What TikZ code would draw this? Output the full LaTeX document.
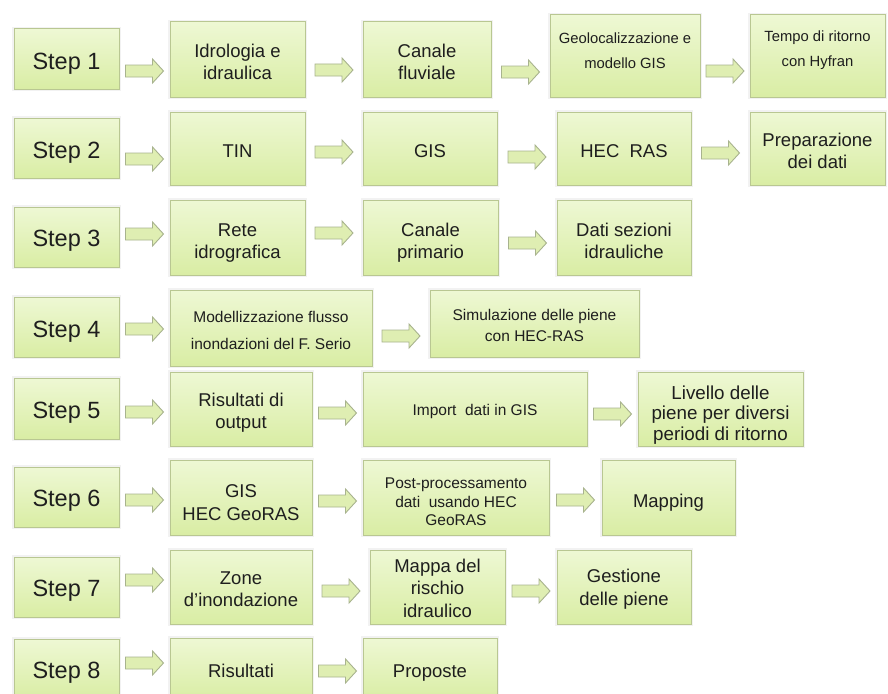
\documentclass[tikz,border=0pt]{standalone}
\usepackage{fontspec}
\setmainfont{Liberation Sans}
\usetikzlibrary{calc}
\definecolor{boxtop}{HTML}{EEF8D4}
\definecolor{boxbot}{HTML}{D9EDA4}
\definecolor{boxline}{HTML}{B9C792}
\definecolor{arrfill}{HTML}{DFEEB2}
\definecolor{arrline}{HTML}{A8B38E}
\definecolor{txt}{HTML}{1E1E1E}
\newcommand\fsStep{\fontsize{23.5}{27}\selectfont}
\newcommand\fsBig{\fontsize{18.5}{22.5}\selectfont}
\newcommand\fsSmall{\fontsize{14.8}{25}\selectfont}
\newcommand\fsMid{\fontsize{15.5}{27}\selectfont}
\newcommand\fsSim{\fontsize{15.5}{20.5}\selectfont}
\newcommand\fsPost{\fontsize{15.5}{18.5}\selectfont}
\newcommand\fsLiv{\fontsize{18.8}{20.5}\selectfont}
\tikzset{
  box/.style={rectangle, draw=boxline, line width=1pt, top color=boxtop,
    bottom color=boxbot, inner sep=0pt,
    preaction={draw=black!5, line width=4pt}},
  label text/.style={text=txt, align=center, inner sep=0pt},
  blockarrow/.style={draw=arrline, fill=arrfill, line width=0.9pt, line join=miter}
}
% [text dy], name, x1, y1, x2, y2, font, text
\newcommand\bx[8][3]{%
  \pgfmathsetmacro\bxw{#5-#3}\pgfmathsetmacro\bxh{#6-#4}%
  \node[box, minimum width=\bxw pt, minimum height=\bxh pt] (#2) at ({(#3+#5)/2},{(#4+#6)/2}) {};
  \node[label text, font=#7] (#2t) at ([shift={(0,#1)}]#2.center) {#8};}
% from, to, y
\newcommand\barrow[3]{%
  \coordinate (m#1#2) at ($(#1.east)!0.5!(#2.west)$);
  \coordinate (c#1#2) at (m#1#2 |- 0,#3);
  \draw[blockarrow] ([shift={(-19,-6)}]c#1#2) -- ([shift={(8,-6)}]c#1#2) -- ([shift={(8,-12)}]c#1#2)
     -- ([shift={(19,0)}]c#1#2) -- ([shift={(8,12)}]c#1#2) -- ([shift={(8,6)}]c#1#2)
     -- ([shift={(-19,6)}]c#1#2) -- cycle;}
\begin{document}
\begin{tikzpicture}[x=1pt,y=-1pt]
\useasboundingbox (0,0) rectangle (888,693);
\fill[white] (0,0) rectangle (888,693);
\clip (0,0) rectangle (888,693);
% Row 1
\bx[5]{s1}{14}{29}{119}{89}{\fsStep}{Step 1}
\bx[2.5]{a1}{170}{22}{305}{97}{\fsBig}{Idrologia e\\idraulica}
\bx[2.5]{b1}{363}{22}{491}{97}{\fsBig}{Canale\\fluviale}
\bx[-5]{c1}{550}{15}{700}{97}{\fsSmall}{Geolocalizzazione e\\modello GIS}
\bx[-6]{d1}{750}{15}{885}{97}{\fsSmall}{Tempo di ritorno\\con Hyfran}
\barrow{s1}{a1}{71}
\barrow{a1}{b1}{70}
\barrow{b1}{c1}{72}
\barrow{c1}{d1}{71}
% Row 2
\bx[5]{s2}{14}{118}{119}{178}{\fsStep}{Step 2}
\bx{a2}{170}{112}{305}{185}{\fsBig}{TIN}
\bx{b2}{363}{112}{497}{185}{\fsBig}{GIS}
\bx{c2}{557}{112}{691}{185}{\fsBig}{HEC\ \ RAS}
\bx[2.5]{d2}{750}{112}{885}{185}{\fsBig}{Preparazione\\dei dati}
\barrow{s2}{a2}{159}
\barrow{a2}{b2}{152}
\barrow{b2}{c2}{157}
\barrow{c2}{d2}{153}
% Row 3
\bx[3.5]{s3}{14}{207}{119}{267}{\fsStep}{Step 3}
\bx[5.5]{a3}{170}{200}{305}{275}{\fsBig}{Rete\\idrografica}
\bx[5]{b3}{363}{200}{498}{275}{\fsBig}{Canale\\primario}
\bx[3.5]{c3}{557}{200}{691}{275}{\fsBig}{Dati sezioni\\idrauliche}
\barrow{s3}{a3}{234}
\barrow{a3}{b3}{233}
\barrow{b3}{c3}{243}
% Row 4
\bx[5]{s4}{14}{297}{119}{357}{\fsStep}{Step 4}
\bx[2]{a4}{170}{290}{372}{366}{\fsMid}{Modellizzazione flusso\\inondazioni del F. Serio}
\bx[2]{b4}{430}{290}{639}{357}{\fsSim}{Simulazione delle piene\\con HEC-RAS}
\barrow{s4}{a4}{329}
\barrow{a4}{b4}{336}
% Row 5
\bx[4]{s5}{14}{378}{119}{439}{\fsStep}{Step 5}
\bx[3.5]{a5}{170}{372}{312}{446}{\fsBig}{Risultati di\\output}
\bx[2]{b5}{363}{372}{587}{446}{\fsMid}{Import\ \ dati in GIS}
\bx[6]{c5}{638}{372}{803}{446}{\fsLiv}{Livello delle\\piene per diversi\\periodi di ritorno}
\barrow{s5}{a5}{412}
\barrow{a5}{b5}{413}
\barrow{b5}{c5}{414}
% Row 6
\bx[4]{s6}{14}{467}{119}{527}{\fsStep}{Step 6}
\bx[5]{a6}{170}{460}{312}{535}{\fsBig}{GIS\\HEC GeoRAS}
\bx[4.5]{b6}{363}{460}{549}{535}{\fsPost}{Post-processamento\\dati\ \ usando HEC\\GeoRAS}
\bx[5]{c6}{602}{460}{735}{535}{\fsBig}{Mapping}
\barrow{s6}{a6}{500}
\barrow{a6}{b6}{501}
\barrow{b6}{c6}{500}
% Row 7
\bx[4]{s7}{14}{557}{119}{617}{\fsStep}{Step 7}
\bx[2]{a7}{170}{550}{312}{624}{\fsBig}{Zone\\d’inondazione}
\bx[1]{b7}{370}{550}{505}{624}{\fsBig}{Mappa del\\rischio\\idraulico}
\bx[2]{c7}{557}{550}{691}{624}{\fsBig}{Gestione\\delle piene}
\barrow{s7}{a7}{580}
\barrow{a7}{b7}{591}
\barrow{b7}{c7}{591}
% Row 8
\bx[4]{s8}{14}{639}{119}{699}{\fsStep}{Step 8}
\bx[2]{a8}{170}{638}{312}{700}{\fsBig}{Risultati}
\bx[4]{b8}{363}{638}{497}{700}{\fsBig}{Proposte}
\barrow{s8}{a8}{663}
\barrow{a8}{b8}{671}
\end{tikzpicture}
\end{document}
